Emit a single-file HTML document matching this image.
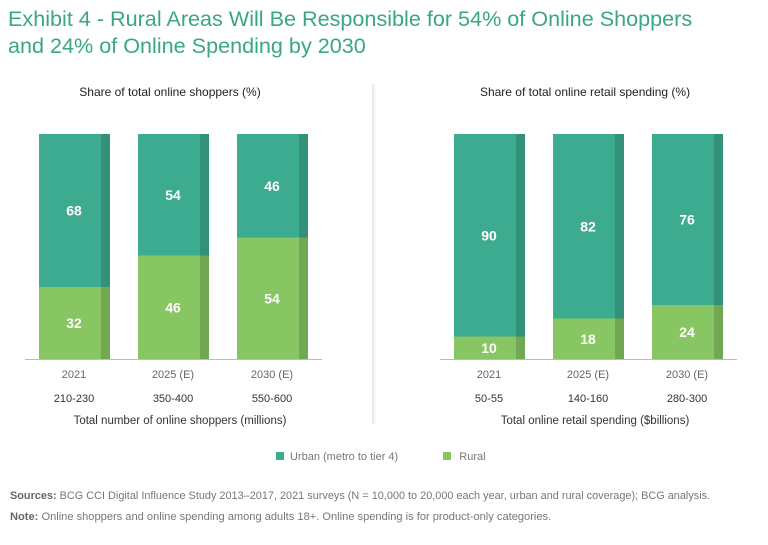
<!DOCTYPE html>
<html><head><meta charset="utf-8"><style>
body{margin:0;width:768px;height:545px;background:#fff;font-family:"Liberation Sans",sans-serif;position:relative;overflow:hidden}
.t{position:absolute;white-space:nowrap}
</style></head><body>
<div class="t" style="left:8px;top:5px;font-size:21.6px;line-height:27px;color:#3aa688">Exhibit 4 - Rural Areas Will Be Responsible for 54% of Online Shoppers<br>and 24% of Online Spending by 2030</div>
<div style="position:absolute;left:372px;top:84px;width:4px;height:340px;background:linear-gradient(to right,#e4e4e4,#fff)"></div>
<svg id="c" width="768" height="545" style="position:absolute;left:0;top:0"></svg>
<div class="t" style="left:276px;top:451px;font-size:11px;color:#777">
<span style="display:inline-block;width:8px;height:8px;background:#3dab8f;margin-right:6px"></span>Urban (metro to tier 4)
<span style="display:inline-block;width:8px;height:8px;background:#88c663;margin:0 8px 0 42px"></span>Rural</div>
<div class="t" style="left:10px;top:490px;font-size:10.9px;color:#777"><b style="color:#666">Sources:</b> BCG CCI Digital Influence Study 2013–2017, 2021 surveys (N = 10,000 to 20,000 each year, urban and rural coverage); BCG analysis.</div>
<div class="t" style="left:10px;top:511px;font-size:11.1px;color:#777"><b style="color:#666">Note:</b> Online shoppers and online spending among adults 18+. Online spending is for product-only categories.</div>
<script>
const years=["2021","2025 (E)","2030 (E)"];
const shopRanges=["210-230","350-400","550-600"];
const spendRanges=["50-55","140-160","280-300"];
const shopRural=[32,46,54];
const shopUrban=[68,54,46];
const spendRural=[10,18,24];
const spendUrban=[90,82,76];
const svg=document.getElementById('c');const NS='http://www.w3.org/2000/svg';
function el(tag,attrs,txt){const e=document.createElementNS(NS,tag);for(const k in attrs)e.setAttribute(k,attrs[k]);if(txt!==undefined)e.textContent=txt;svg.appendChild(e);return e;}
const top0=134,bot=359,H=bot-top0;
function y(v){return bot-v/100*H;}
function panel(x0,title,ranges,rural,urban,axisTitle,key){
 let t=el('text',{x:x0+145,y:96,'text-anchor':'middle','font-size':12,fill:'#222'},title);
 
 years.forEach((yr,i)=>{
  const bx=x0+14+i*99,w=71;
  const yr1=y(rural[i]),yu=y(rural[i]+urban[i]);
  let r=el('rect',{x:bx,y:yr1,width:w,height:bot-yr1,fill:'#88c663'});
  
  el('rect',{x:bx+w-9,y:yr1,width:9,height:bot-yr1,fill:'#72a854'});
  let u=el('rect',{x:bx,y:yu,width:w,height:yr1-yu,fill:'#3dab8f'});
  
  el('rect',{x:bx+w-9,y:yu,width:9,height:yr1-yu,fill:'#33917a'});
  el('text',{x:bx+35,y:(yr1+bot)/2+5,'text-anchor':'middle','font-size':14,'font-weight':'bold',fill:'#fff'},rural[i]);
  el('text',{x:bx+35,y:(yu+yr1)/2+5,'text-anchor':'middle','font-size':14,'font-weight':'bold',fill:'#fff'},urban[i]);
  let l=el('text',{x:bx+35,y:378,'text-anchor':'middle','font-size':11,fill:'#666'},yr);
  
  el('text',{x:bx+35,y:402,'text-anchor':'middle','font-size':11,fill:'#333'},ranges[i]);
 });
 el('line',{x1:x0,x2:x0+297,y1:bot+0.5,y2:bot+0.5,stroke:'#bbb','stroke-width':1});
 let a=el('text',{x:x0+155,y:424,'text-anchor':'middle','font-size':11.5,fill:'#333'},axisTitle);
 
}
panel(25,'Share of total online shoppers (%)',shopRanges,shopRural,shopUrban,'Total number of online shoppers (millions)','shoppers');
panel(440,'Share of total online retail spending (%)',spendRanges,spendRural,spendUrban,'Total online retail spending ($billions)','spending');
</script>
</body></html>
